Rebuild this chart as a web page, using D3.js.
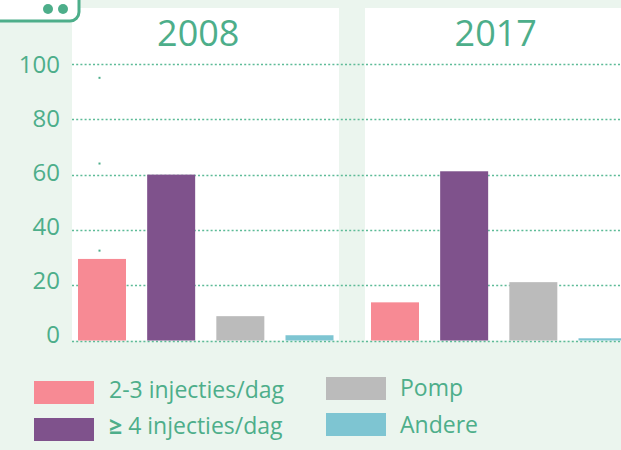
<!doctype html>
<html lang="nl">
    <head>
        <meta charset="utf-8">
        <title>Insulinetherapie 2008 - 2017</title>
        <style>
            body { margin: 0; background: #ebf5ee; }
            svg { display: block; }
            text { font-family: "Open Sans", "Noto Sans", sans-serif; fill: #4dae8a; }
        </style>
    </head>
    <body>
        <svg></svg>
        <script src="https://d3js.org/d3.v7.min.js"></script>
        <script>
            //Chart data
            var categories = ["2-3 injecties/dag", "\u2265 4 injecties/dag", "Pomp", "Andere"];
            var years = ["2008", "2017"];
            var values2008 = [29.5, 60, 8.8, 1.9];
            var values2017 = [13.8, 61.2, 21.1, 0.8];
            var yTicks = [0, 20, 40, 60, 80, 100];
            var colors = ["#f78a94", "#7f528c", "#bbbbbb", "#7ec5d2"];

            var svgWidth = 621;
            var svgHeight = 450;
            var green = "#4dae8a";

            var svg = d3.select("svg")
                .attr("width", svgWidth)
                .attr("height", svgHeight);

            //Scales
            var y = d3.scaleLinear().domain([0, 100]).range([340.5, 64]);
            var yLabel = y.copy().range([333.5, 63.5]);
            var panelX = d3.scaleBand().domain(years).range([72, 632]).paddingInner(0.0887);
            var x = d3.scaleBand().domain(categories).range([6, 261.5]).paddingInner(0.306);

            //Panels (white backgrounds)
            svg.selectAll("rect.panel")
                .data(years)
                .enter()
                .append("rect")
                .attr("class", "panel")
                .attr("x", function(d) { return panelX(d); })
                .attr("y", 8)
                .attr("width", panelX.bandwidth())
                .attr("height", y(0) - 8)
                .style("fill", "#ffffff");

            //Dotted grid lines across both panels
            svg.selectAll("line.grid")
                .data(yTicks)
                .enter()
                .append("line")
                .attr("class", "grid")
                .attr("x1", 72)
                .attr("x2", svgWidth)
                .attr("y1", function(d) { return Math.round(y(d)) + 0.5; })
                .attr("y2", function(d) { return Math.round(y(d)) + 0.5; })
                .style("stroke", "#5dbb97")
                .style("stroke-width", 1.4)
                .style("stroke-dasharray", "2,2.2");

            //Y axis labels
            var yAxis = d3.axisLeft(yLabel).tickValues(yTicks).tickSize(0).tickPadding(0);
            svg.append("g")
                .attr("transform", "translate(60,0)")
                .call(yAxis)
                .call(function(g) { g.select(".domain").remove(); })
                .selectAll("text")
                .style("font-size", "24px")
                .style("font-family", "'Open Sans', sans-serif")
                .style("fill", green)
                .attr("dy", "0.36em");

            //Bars per panel
            var panelData = [values2008, values2017];
            years.forEach(function(year, p) {
                var g = svg.append("g")
                    .attr("transform", "translate(" + panelX(year) + ",0)");
                g.selectAll("rect")
                    .data(panelData[p])
                    .enter()
                    .append("rect")
                    .attr("x", function(d, i) { return x(categories[i]); })
                    .attr("y", function(d) { return y(d); })
                    .attr("width", x.bandwidth())
                    .attr("height", function(d) { return y(0) - y(d); })
                    .style("fill", function(d, i) { return colors[i]; });
                g.append("text")
                    .attr("x", (x.range()[0] + x.range()[1]) / 2 - 7.5 + 4.5 * p)
                    .attr("y", 46)
                    .attr("text-anchor", "middle")
                    .style("font-size", "36px")
                    .text(year);
            });

            //Small marks in first panel
            svg.selectAll("rect.mark")
                .data([95, 64, 32.5])
                .enter()
                .append("rect")
                .attr("class", "mark")
                .attr("x", 98.5)
                .attr("y", function(d) { return y(d) - 1; })
                .attr("width", 2)
                .attr("height", 2)
                .style("fill", green);

            //Legend: swatch position and text baseline
            var legendPos = [[34, 381], [34, 418], [326, 377], [326, 413]];
            var legendBase = [17.3, 16.3, 19.2, 19.7];
            var legend = svg.selectAll("g.legend")
                .data(categories)
                .enter()
                .append("g")
                .attr("class", "legend")
                .attr("transform", function(d, i) { return "translate(" + legendPos[i] + ")"; });
            legend.append("rect")
                .attr("width", 60)
                .attr("height", 23)
                .style("fill", function(d, i) { return colors[i]; });
            legend.append("text")
                .attr("x", function(d, i) { return i < 2 ? 75 : 74; })
                .attr("y", function(d, i) { return legendBase[i]; })
                .style("font-size", "23px")
                .each(function(d) {
                    var t = d3.select(this);
                    if (d.charAt(0) == "\u2265") {
                        t.append("tspan").style("font-weight", "bold").text("\u2265");
                        t.append("tspan").text(d.slice(1));
                    } else {
                        t.text(d);
                    }
                });

            //Top-left decoration
            svg.append("rect")
                .attr("x", -10)
                .attr("y", -10)
                .attr("width", 89)
                .attr("height", 31)
                .attr("rx", 9)
                .style("fill", "#ffffff")
                .style("stroke", green)
                .style("stroke-width", 3);
            svg.selectAll("circle.deco")
                .data([48, 63])
                .enter()
                .append("circle")
                .attr("class", "deco")
                .attr("cx", function(d) { return d; })
                .attr("cy", 9)
                .attr("r", 5)
                .style("fill", green);
        </script>
    </body>
</html>
